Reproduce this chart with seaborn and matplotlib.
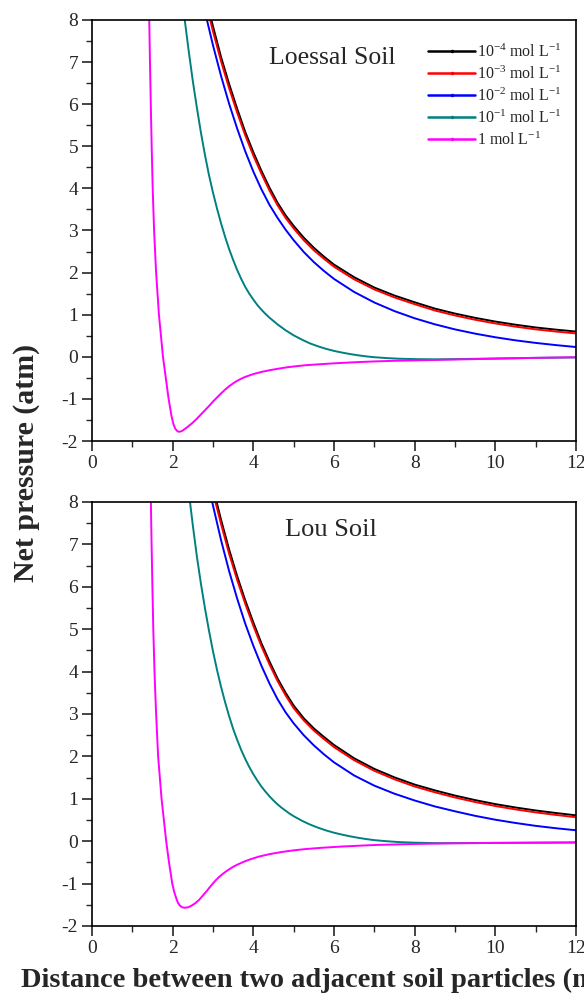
import pandas as pd
import matplotlib
matplotlib.use("Agg")
import matplotlib.pyplot as plt
from matplotlib.lines import Line2D
from matplotlib.ticker import MultipleLocator
import seaborn as sns

# ---- data (x in nm, y in atm) ----
labels = ["10$^{-4}$ mol L$^{-1}$", "10$^{-3}$ mol L$^{-1}$", "10$^{-2}$ mol L$^{-1}$",
          "10$^{-1}$ mol L$^{-1}$", "1 mol L$^{-1}$"]
colors = ["#000000", "#ff0000", "#0000ff", "#008080", "#ff00ff"]

# ---------- Loessal soil ----------
loess_x_m4 = [2.96, 3.0, 3.2, 3.4, 3.6, 3.8, 4.0, 4.2, 4.4, 4.6, 4.8, 5.0, 5.25, 5.5, 5.75, 6.0,
              6.5, 7.0, 7.5, 8.0, 8.5, 9.0, 9.5, 10.0, 10.5, 11.0, 11.5, 12.0]
loess_y_m4 = [8.0, 7.85, 7.12, 6.48, 5.89, 5.34, 4.86, 4.42, 4.02, 3.66, 3.36, 3.11, 2.83, 2.59,
              2.38, 2.19, 1.89, 1.645, 1.455, 1.295, 1.145, 1.027, 0.925, 0.837, 0.762, 0.697,
              0.645, 0.6]
loess_x_m3 = [2.93, 3.0, 3.2, 3.4, 3.6, 3.8, 4.0, 4.2, 4.4, 4.6, 4.8, 5.0, 5.25, 5.5, 5.75, 6.0,
              6.5, 7.0, 7.5, 8.0, 8.5, 9.0, 9.5, 10.0, 10.5, 11.0, 11.5, 12.0]
loess_y_m3 = [8.0, 7.73, 7.02, 6.38, 5.8, 5.26, 4.78, 4.35, 3.95, 3.6, 3.3, 3.05, 2.77, 2.53,
              2.33, 2.14, 1.84, 1.6, 1.41, 1.25, 1.1, 0.982, 0.88, 0.792, 0.717, 0.652, 0.6, 0.555]
loess_x_m2 = [2.85, 3.0, 3.2, 3.4, 3.6, 3.8, 4.0, 4.2, 4.4, 4.6, 4.8, 5.0, 5.25, 5.5, 5.75, 6.0,
              6.5, 7.0, 7.5, 8.0, 8.5, 9.0, 9.5, 10.0, 10.5, 11.0, 11.5, 12.0]
loess_y_m2 = [8.0, 7.4, 6.67, 6.01, 5.42, 4.88, 4.4, 3.98, 3.61, 3.3, 3.02, 2.77, 2.49, 2.25,
              2.04, 1.85, 1.54, 1.29, 1.085, 0.915, 0.772, 0.651, 0.55, 0.464, 0.391, 0.33,
              0.278, 0.232]
loess_x_m1 = [2.3, 2.4, 2.5, 2.6, 2.7, 2.8, 2.9, 3.0, 3.1, 3.2, 3.3, 3.4, 3.5, 3.6, 3.7, 3.8,
              3.9, 4.0, 4.1, 4.2, 4.3, 4.4, 4.5, 4.6, 4.7, 4.8, 4.9, 5.0, 5.2, 5.4, 5.6, 5.8,
              6.0, 6.2, 6.4, 6.6, 6.8, 7.0, 7.3, 7.6, 8.0, 8.5, 9.0, 10.0, 11.0, 12.0]
loess_y_m1 = [8.0, 7.25, 6.55, 5.92, 5.33, 4.8, 4.32, 3.9, 3.52, 3.17, 2.85, 2.56, 2.3, 2.06,
              1.85, 1.66, 1.5, 1.36, 1.23, 1.12, 1.02, 0.93, 0.85, 0.77, 0.7, 0.63, 0.57, 0.51,
              0.41, 0.32, 0.25, 0.19, 0.14, 0.1, 0.065, 0.035, 0.01, -0.01, -0.03, -0.045,
              -0.055, -0.06, -0.055, -0.04, -0.025, -0.015]
loess_x_1 = [1.42, 1.438, 1.458, 1.48, 1.505, 1.54, 1.59, 1.66, 1.76, 1.83, 1.9, 1.97, 2.02,
             2.06, 2.1, 2.13, 2.17, 2.21, 2.25, 2.35, 2.48, 2.6, 2.7, 2.8, 2.9, 3.0, 3.1, 3.2,
             3.3, 3.4, 3.5, 3.6, 3.7, 3.8, 4.0, 4.2, 4.4, 4.6, 4.8, 5.0, 5.3, 5.6, 6.0, 6.5,
             7.0, 7.5, 8.0, 9.0, 10.0, 11.0, 12.0]
loess_y_1 = [8.0, 7.0, 6.0, 5.0, 4.0, 3.0, 2.0, 1.0, 0.0, -0.5, -1.0, -1.4, -1.6, -1.7, -1.75,
             -1.775, -1.78, -1.77, -1.75, -1.68, -1.58, -1.47, -1.37, -1.27, -1.17, -1.065,
             -0.965, -0.87, -0.78, -0.7, -0.63, -0.57, -0.52, -0.477, -0.41, -0.36, -0.32,
             -0.285, -0.255, -0.23, -0.2, -0.18, -0.155, -0.13, -0.11, -0.095, -0.085, -0.065,
             -0.045, -0.025, -0.01]

# ---------- Lou soil ----------
lou_x_m4 = [3.09, 3.2, 3.4, 3.6, 3.8, 4.0, 4.2, 4.4, 4.6, 4.8, 5.0, 5.25, 5.5, 5.75, 6.0, 6.5,
            7.0, 7.5, 8.0, 8.5, 9.0, 9.5, 10.0, 10.5, 11.0, 11.5, 12.0]
lou_y_m4 = [8.0, 7.58, 6.88, 6.25, 5.68, 5.16, 4.67, 4.24, 3.84, 3.5, 3.2, 2.9, 2.66, 2.46,
            2.27, 1.955, 1.705, 1.505, 1.335, 1.199, 1.076, 0.969, 0.875, 0.795, 0.725, 0.665,
            0.61]
lou_x_m3 = [3.06, 3.2, 3.4, 3.6, 3.8, 4.0, 4.2, 4.4, 4.6, 4.8, 5.0, 5.25, 5.5, 5.75, 6.0, 6.5,
            7.0, 7.5, 8.0, 8.5, 9.0, 9.5, 10.0, 10.5, 11.0, 11.5, 12.0]
lou_y_m3 = [8.0, 7.48, 6.78, 6.16, 5.6, 5.08, 4.6, 4.17, 3.78, 3.44, 3.14, 2.85, 2.61, 2.41,
            2.22, 1.91, 1.66, 1.46, 1.29, 1.154, 1.031, 0.924, 0.83, 0.75, 0.68, 0.62, 0.565]
lou_x_m2 = [2.98, 3.2, 3.4, 3.6, 3.8, 4.0, 4.2, 4.4, 4.6, 4.8, 5.0, 5.25, 5.5, 5.75, 6.0, 6.5,
            7.0, 7.5, 8.0, 8.5, 9.0, 9.5, 10.0, 10.5, 11.0, 11.5, 12.0]
lou_y_m2 = [8.0, 7.1, 6.37, 5.72, 5.13, 4.61, 4.14, 3.72, 3.35, 3.04, 2.78, 2.5, 2.26, 2.05,
            1.86, 1.55, 1.31, 1.12, 0.96, 0.82, 0.705, 0.598, 0.507, 0.43, 0.362, 0.306, 0.258]
lou_x_m1 = [2.43, 2.5, 2.6, 2.7, 2.8, 2.9, 3.0, 3.1, 3.2, 3.3, 3.4, 3.5, 3.6, 3.7, 3.8, 3.9,
            4.0, 4.1, 4.2, 4.3, 4.4, 4.5, 4.6, 4.7, 4.8, 4.9, 5.0, 5.2, 5.4, 5.6, 5.8, 6.0,
            6.2, 6.4, 6.6, 6.8, 7.0, 7.3, 7.6, 8.0, 8.5, 9.0, 10.0, 11.0, 12.0]
lou_y_m1 = [8.0, 7.45, 6.72, 6.08, 5.5, 4.97, 4.48, 4.04, 3.64, 3.28, 2.95, 2.65, 2.39, 2.15,
            1.94, 1.75, 1.58, 1.43, 1.29, 1.17, 1.06, 0.96, 0.87, 0.79, 0.72, 0.65, 0.59,
            0.485, 0.395, 0.32, 0.255, 0.2, 0.155, 0.115, 0.08, 0.05, 0.025, 0.0, -0.02,
            -0.035, -0.045, -0.045, -0.04, -0.035, -0.03]
lou_x_1 = [1.46, 1.478, 1.498, 1.52, 1.55, 1.59, 1.64, 1.725, 1.84, 1.91, 1.99, 2.04, 2.09,
           2.13, 2.18, 2.24, 2.3, 2.38, 2.45, 2.55, 2.65, 2.75, 2.85, 2.95, 3.06, 3.15, 3.25,
           3.35, 3.47, 3.6, 3.75, 3.9, 4.13, 4.4, 4.7, 4.96, 5.3, 5.7, 6.2, 7.0, 8.0, 9.0,
           10.0, 11.0, 12.0]
lou_y_1 = [8.0, 7.0, 6.0, 5.0, 4.0, 3.0, 2.0, 1.0, 0.0, -0.5, -1.0, -1.2, -1.35, -1.45, -1.52,
           -1.56, -1.57, -1.56, -1.53, -1.47, -1.39, -1.28, -1.17, -1.05, -0.93, -0.845, -0.765,
           -0.695, -0.62, -0.555, -0.49, -0.435, -0.365, -0.305, -0.255, -0.22, -0.185, -0.155,
           -0.125, -0.09, -0.065, -0.05, -0.04, -0.035, -0.03]


def long_form(series):
    parts = [pd.DataFrame({"x": xs, "y": ys, "conc": lab}) for lab, xs, ys in series]
    return pd.concat(parts, ignore_index=True)


df_loess = long_form([(labels[0], loess_x_m4, loess_y_m4), (labels[1], loess_x_m3, loess_y_m3),
                      (labels[2], loess_x_m2, loess_y_m2), (labels[3], loess_x_m1, loess_y_m1),
                      (labels[4], loess_x_1, loess_y_1)])
df_lou = long_form([(labels[0], lou_x_m4, lou_y_m4), (labels[1], lou_x_m3, lou_y_m3),
                    (labels[2], lou_x_m2, lou_y_m2), (labels[3], lou_x_m1, lou_y_m1),
                    (labels[4], lou_x_1, lou_y_1)])

# ---- style ----
sns.set_style("ticks")
plt.rcParams["font.family"] = ["Liberation Serif", "DejaVu Serif"]
plt.rcParams["mathtext.fontset"] = "custom"
plt.rcParams["mathtext.rm"] = "Liberation Serif"
plt.rcParams["mathtext.it"] = "Liberation Serif:italic"
plt.rcParams["axes.unicode_minus"] = False

palette = dict(zip(labels, colors))

fig = plt.figure(figsize=(5.84, 10), dpi=100)
ax1 = fig.add_axes([0.1575, 0.559, 0.8288, 0.421])
ax2 = fig.add_axes([0.1575, 0.074, 0.8288, 0.424])

for ax, df, title, tpos, tsize in [(ax1, df_loess, "Loessal Soil", (4.38, 7.1), 18.5),
                                   (ax2, df_lou, "Lou Soil", (4.78, 7.35), 19)]:
    sns.lineplot(data=df, x="x", y="y", hue="conc", hue_order=labels, palette=palette,
                 estimator=None, sort=False, linewidth=1.4, ax=ax, legend=False)
    ax.set_xlim(0, 12)
    ax.set_ylim(-2, 8)
    ax.set_xlabel("")
    ax.set_ylabel("")
    ax.xaxis.set_major_locator(MultipleLocator(2))
    ax.xaxis.set_minor_locator(MultipleLocator(1))
    ax.yaxis.set_major_locator(MultipleLocator(1))
    ax.yaxis.set_minor_locator(MultipleLocator(0.5))
    ax.tick_params(which="major", direction="out", length=7, width=1.2, labelsize=14,
                   top=False, right=False, pad=3)
    ax.tick_params(which="minor", direction="out", length=4, width=1.0, top=False, right=False)
    for sp in ax.spines.values():
        sp.set_visible(True)
        sp.set_linewidth(1.2)
        sp.set_color("black")
    ax.text(tpos[0], tpos[1], title, fontsize=tsize, va="center", ha="left")

handles = [Line2D([], [], color=c, lw=1.8, marker=".", markersize=3) for c in colors]
ax1.legend(handles, labels, loc="upper left", bbox_to_anchor=(0.682, 0.96), frameon=False,
           fontsize=11.5, handlelength=2.9, handletextpad=0.15, labelspacing=0.3,
           borderaxespad=0, numpoints=1)

fig.text(0.046, 0.537, "Net pressure (atm)", rotation=90, fontsize=21.5, fontweight="bold",
         va="center", ha="center")
fig.text(0.036, 0.02, "Distance between two adjacent soil particles (nm)", fontsize=20.5,
         fontweight="bold", va="center", ha="left")

fig.savefig("out.png", dpi=100)
